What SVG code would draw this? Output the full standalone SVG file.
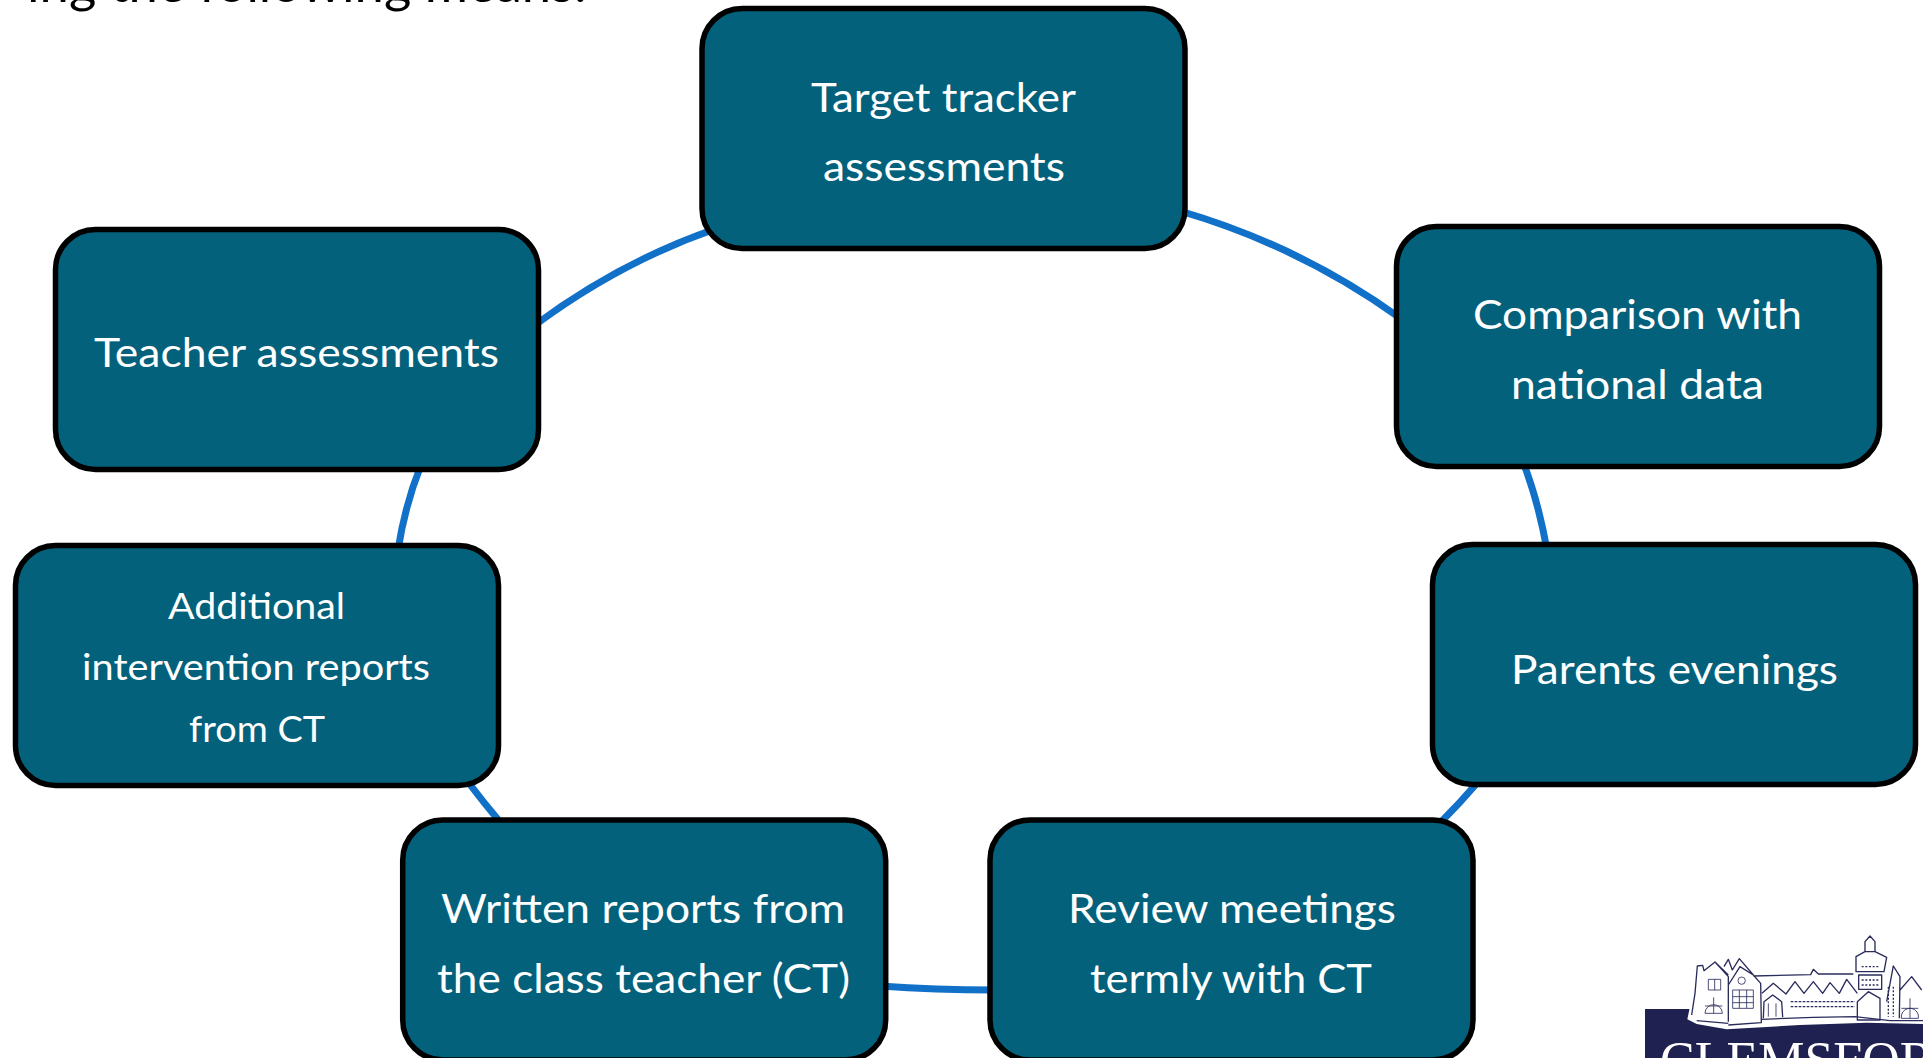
<svg xmlns="http://www.w3.org/2000/svg" width="1923" height="1058" viewBox="0 0 1923 1058">
<style>
.box{fill:#04617c;stroke:#000;stroke-width:5.5}
.lbl{fill:#fff;font-family:Lato,"Open Sans",sans-serif;font-size:41px;text-anchor:start}
.sm{font-size:36px}
.con{fill:none;stroke:#1170c8;stroke-width:7}
.ln{fill:none;stroke:#2a2c5c;stroke-width:4;stroke-linejoin:round}
.fn{fill:none;stroke:#2a2c5c;stroke-width:2.5}
</style>
<rect width="1923" height="1058" fill="#fff"/>
<text id="heading" x="27" y="2" font-family="Lato,'Open Sans',sans-serif" font-size="50" fill="#000" textLength="560" lengthAdjust="spacingAndGlyphs">ing the following means:</text>
<g id="connectors">
<path class="con" d="M535,325 Q620,262 715,229"/>
<path class="con" d="M1180,211 Q1300,246 1400,318"/>
<path class="con" d="M1523,462 Q1538,500 1547,550"/>
<path class="con" d="M421,465 Q405,505 398,550"/>
<path class="con" d="M1478,782 Q1460,803 1440,823"/>
<path class="con" d="M468,782 Q484,803 500,822"/>
<path class="con" d="M880,986 Q935,990 995,990"/>
</g>
<g id="node-target"><rect class="box" x="702" y="8.500" width="483" height="240" rx="40"/>
<text class="lbl" x="811" y="112" textLength="265" lengthAdjust="spacingAndGlyphs">Target tracker</text>
<text class="lbl" x="823" y="181" textLength="242" lengthAdjust="spacingAndGlyphs">assessments</text></g>
<g id="node-comparison"><rect class="box" x="1396.500" y="226.500" width="483" height="240" rx="40"/>
<text class="lbl" x="1473" y="329" textLength="329" lengthAdjust="spacingAndGlyphs">Comparison with</text>
<text class="lbl" x="1511" y="399" textLength="253" lengthAdjust="spacingAndGlyphs">national data</text></g>
<g id="node-parents"><rect class="box" x="1432.500" y="544.500" width="483" height="240" rx="40"/>
<text class="lbl" x="1511" y="684" textLength="327" lengthAdjust="spacingAndGlyphs">Parents evenings</text></g>
<g id="node-review"><rect class="box" x="990" y="820" width="483" height="240" rx="40"/>
<text class="lbl" x="1068" y="923" textLength="328" lengthAdjust="spacingAndGlyphs">Review meetings</text>
<text class="lbl" x="1090" y="993" textLength="282" lengthAdjust="spacingAndGlyphs">termly with CT</text></g>
<g id="node-written"><rect class="box" x="402.700" y="820" width="483" height="240" rx="40"/>
<text class="lbl" x="441" y="923" textLength="404" lengthAdjust="spacingAndGlyphs">Written reports from</text>
<text class="lbl" x="437" y="993" textLength="413" lengthAdjust="spacingAndGlyphs">the class teacher (CT)</text></g>
<g id="node-additional"><rect class="box" x="15.500" y="545.500" width="483" height="240" rx="40"/>
<text class="lbl sm" x="168" y="619" textLength="177" lengthAdjust="spacingAndGlyphs">Additional</text>
<text class="lbl sm" x="82" y="680" textLength="348" lengthAdjust="spacingAndGlyphs">intervention reports</text>
<text class="lbl sm" x="189" y="742" textLength="136" lengthAdjust="spacingAndGlyphs">from CT</text></g>
<g id="node-teacher"><rect class="box" x="55.500" y="229.500" width="483" height="240" rx="40"/>
<text class="lbl" x="94" y="367" textLength="405" lengthAdjust="spacingAndGlyphs">Teacher assessments</text></g>
<g id="logo">
<rect x="1645" y="1009" width="278" height="49" fill="#1f2150"/>
<g transform="translate(1400,700) scale(.33333)">
<path fill="#fff" d="M862,958 L878,880 888,792 945,782 985,772 1020,772 1060,822 1230,818 1240,802 1256,818 1358,818 1362,768 1392,752 1392,720 1410,700 1428,720 1428,752 1462,768 1458,805 1480,790 1502,822 1569,826 L1569,972 L1400,968 1200,975 980,988 890,972 Z"/>
<path class="ln" d="M875,945 L885,880 892,798 908,796 912,812 945,786 985,830 985,965 M945,786 L985,825 M985,855 L1020,800 1060,825 1082,850 1084,968 985,975 M972,800 L985,778 997,810 1018,776 1060,825 M1060,828 L1232,824 1240,808 1255,822 1360,822 M1086,880 L1120,850 1158,882 1185,845 1212,880 1240,845 1268,880 1290,848 1318,880 1340,838 1372,880"/>
<path class="ln" d="M890,962 L985,970 M1084,958 L1240,952 1365,950 1470,962 1569,962"/>
<path class="ln" d="M1090,955 L1092,905 1118,885 1145,905 1148,952 M1368,770 L1395,755 1425,755 1460,772 1452,815 1368,815 Z M1395,755 L1395,725 1410,708 1425,725 1425,755 M1372,905 L1372,960 1440,960 1440,895 1405,875 Z M1376,825 L1445,825 1445,868 1376,868 Z M1460,905 L1480,798 1500,830 1498,955 M1500,870 L1535,830 1565,870"/>
<path class="fn" d="M915,940 A26,26 0 0 1 967,940 L915,940 M941,892 V940 M915,918 H967 M925,838 H962 V870 H925 Z M944,838 V870 M998,870 H1060 V925 H998 Z M1018,870 V925 M1040,870 V925 M998,890 H1060 M998,908 H1060 M1504,955 A26,26 0 0 1 1555,945 L1555,955 Z M1530,895 V955 M1504,925 H1555 M1105,910 V950 M1128,910 V950"/>
<path class="ln" stroke-dasharray="8 4" d="M1172,920 H1365 M1172,905 H1365"/>
<path class="ln" stroke-dasharray="6 5" d="M1385,840 H1440 M1385,855 H1440 M1385,800 H1440 M1465,860 V950 M1480,860 V950"/>
<circle cx="1025" cy="842" r="11" class="fn"/>
</g>
<text x="1660" y="1078" font-family="'Liberation Serif',serif" font-size="52" fill="#fff">CLEMSFOR</text>
</g>
</svg>
